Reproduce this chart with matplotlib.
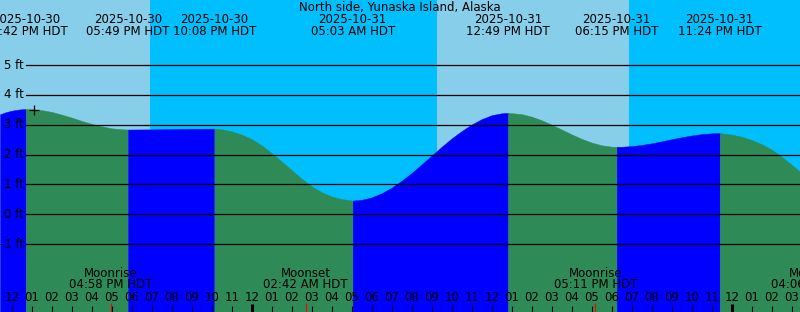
import matplotlib
matplotlib.use("Agg")
import matplotlib.pyplot as plt

# tide chart, North side, Yunaska Island
# time axis = hours counted from 2025-10-30 12:00 PM HDT

# water level (hours, feet)
curve_hours = [-0.585, -0.3, 0.0, 0.35, 0.70,
               1.0, 1.5, 2.0, 2.5, 3.0, 3.5, 4.0, 4.5, 5.0, 5.5, 5.817,
               7.0, 8.0, 9.0, 10.133,
               10.5, 11.0, 11.5, 12.0, 12.5, 13.0, 13.5, 14.0, 14.5, 15.0, 15.5, 16.0, 16.5, 17.05,
               17.5, 18.0, 18.5, 19.0, 19.5, 20.0, 20.5, 21.0, 21.5, 22.0, 22.5, 23.0, 23.5, 24.0, 24.5, 24.817,
               25.5, 26.0, 26.5, 27.0, 27.5, 28.0, 28.5, 29.0, 29.5, 30.0, 30.25,
               30.5, 31.0, 31.5, 32.0, 32.5, 33.0, 33.5, 34.0, 34.5, 35.0, 35.4,
               36.0, 36.5, 37.0, 37.5, 38.0, 38.5, 39.0, 39.415]
curve_feet = [3.35, 3.42, 3.47, 3.51, 3.53,
              3.52, 3.49, 3.43, 3.34, 3.24, 3.13, 3.03, 2.95, 2.88, 2.85, 2.84,
              2.845, 2.855, 2.865, 2.87,
              2.85, 2.78, 2.67, 2.52, 2.31, 2.05, 1.77, 1.48, 1.19, 0.94, 0.74, 0.60, 0.51, 0.46,
              0.485, 0.567, 0.706, 0.894, 1.126, 1.387, 1.674, 1.970, 2.264, 2.544, 2.79, 3.01, 3.19, 3.32, 3.385, 3.40,
              3.356, 3.272, 3.151, 3.003, 2.841, 2.678, 2.528, 2.403, 2.312, 2.266, 2.26,
              2.263, 2.284, 2.324, 2.379, 2.445, 2.515, 2.582, 2.641, 2.686, 2.713, 2.72,
              2.67, 2.60, 2.49, 2.35, 2.17, 1.93, 1.66, 1.43]

tide_hours = [0.70, 5.817, 10.133, 17.05, 24.817, 30.25, 35.4]
tide_high = [True, False, True, False, True, False, True]
tide_dates = ["2025-10-30", "2025-10-30", "2025-10-30", "2025-10-31",
              "2025-10-31", "2025-10-31", "2025-10-31"]
tide_times = ["12:42 PM HDT", "05:49 PM HDT", "10:08 PM HDT", "05:03 AM HDT",
              "12:49 PM HDT", "06:15 PM HDT", "11:24 PM HDT"]

# sunset, sunrise, sunset
sun_hours = [6.915, 21.25, 30.865]

moon_hours = [4.967, 14.7, 29.183, 40.1]
moon_names = ["Moonrise", "Moonset", "Moonrise", "Moonset"]
moon_times = ["04:58 PM HDT", "02:42 AM HDT", "05:11 PM HDT", "04:06 AM HDT"]

depth_lines = [-1, 0, 1, 2, 3, 4, 5]
mark_hours = [1.13]
mark_feet = [3.49]

title = "North side, Yunaska Island, Alaska"

DAY = "#87CEEB"
NIGHT = "#00BFFF"
RISE = "#0000FF"
FALL = "#2E8B57"

W, H = 800, 312
x0, x1 = -0.585, 39.415
y0, y1 = -3.273, 7.179


def ypix(py):
    # pixel row from top -> axes fraction
    return 1 - py / H


fig = plt.figure(figsize=(W / 100, H / 100), dpi=100)
ax = fig.add_axes([0, 0, 1, 1])
ax.set_xlim(x0, x1)
ax.set_ylim(y0, y1)
ax.axis("off")
fs = 8.5

# sky: day / night
edges = [x0] + sun_hours + [x1]
for i in range(len(edges) - 1):
    ax.axvspan(edges[i], edges[i + 1], color=DAY if i % 2 == 0 else NIGHT, lw=0, zorder=0)

# water, blue while rising, green while falling
bounds = [x0] + tide_hours + [x1]
for i in range(len(bounds) - 1):
    a, b = bounds[i], bounds[i + 1]
    hs = [h for h in curve_hours if a - 1e-9 <= h <= b + 1e-9]
    ft = [f for h, f in zip(curve_hours, curve_feet) if a - 1e-9 <= h <= b + 1e-9]
    if i < len(tide_high):
        rising = tide_high[i]
    else:
        rising = not tide_high[-1]
    col = RISE if rising else FALL
    ax.fill_between(hs, ft, y0, color=col, lw=0.3, ec=col, zorder=1)

# depth lines + labels
for d in depth_lines:
    ax.axhline(d, xmin=26 / W, xmax=1, color="black", lw=0.9, zorder=2)
    ax.text(24 / W, d, f"{d} ft", transform=ax.get_yaxis_transform(),
            ha="right", va="center", fontsize=fs, zorder=3)

ax.plot(mark_hours, mark_feet, marker="+", color="black", ms=7, mew=0.9, ls="none", zorder=3)

tr = ax.get_xaxis_transform()
fig.text(0.5, ypix(7.5), title, ha="center", va="center", fontsize=fs)
for h, dt, tm in zip(tide_hours, tide_dates, tide_times):
    ax.text(h, ypix(19.3), dt, transform=tr, ha="center", va="center", fontsize=fs, zorder=3)
    ax.text(h, ypix(31.7), tm, transform=tr, ha="center", va="center", fontsize=fs, zorder=3)

# moon events
for h, nm, tm in zip(moon_hours, moon_names, moon_times):
    ax.text(h, ypix(273.3), nm, transform=tr, ha="center", va="center", fontsize=fs, zorder=3)
    ax.text(h, ypix(285), tm, transform=tr, ha="center", va="center", fontsize=fs, zorder=3)
    if x0 < h < x1:
        ax.vlines(h, 0, 9 / H, transform=tr, color="red", lw=0.8, zorder=3)

# hour ticks
for k in range(0, 40):
    lab = f"{(k + 11) % 12 + 1:02d}"
    ax.text(k, ypix(297.3), lab, transform=tr, ha="center", va="center", fontsize=fs, zorder=3)
    if k % 24 == 12:
        ax.vlines(k, 0, 8 / H, transform=tr, color="black", lw=2.2, zorder=3)
    else:
        ax.vlines(k, 0, 6 / H, transform=tr, color="black", lw=0.8, zorder=3)

fig.savefig("out.png", dpi=100)
